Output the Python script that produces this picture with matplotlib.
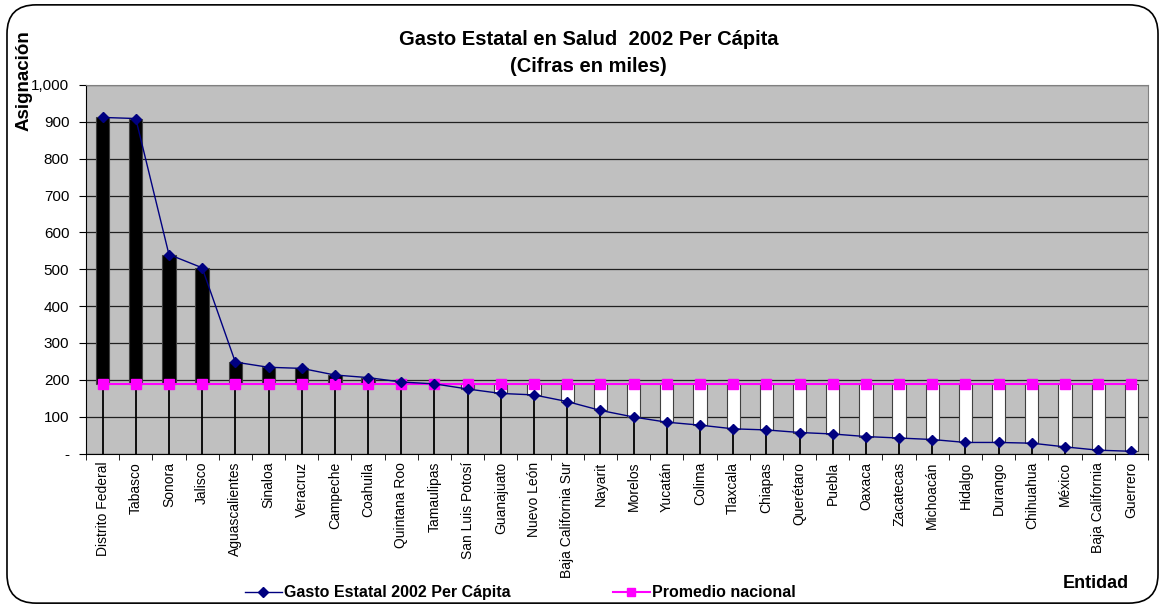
import numpy as np
import matplotlib
matplotlib.use("Agg")
import matplotlib.pyplot as plt
from matplotlib.patches import FancyBboxPatch
from matplotlib.lines import Line2D

plt.rcParams['font.family'] = ['Liberation Sans', 'DejaVu Sans']

estados = ["Distrito Federal", "Tabasco", "Sonora", "Jalisco", "Aguascalientes",
           "Sinaloa", "Veracruz", "Campeche", "Coahuila", "Quintana Roo",
           "Tamaulipas", "San Luis Potosí", "Guanajuato", "Nuevo León",
           "Baja California Sur", "Nayarit", "Morelos", "Yucatán", "Colima",
           "Tlaxcala", "Chiapas", "Querétaro", "Puebla", "Oaxaca", "Zacatecas",
           "Michoacán", "Hidalgo", "Durango", "Chihuahua", "México",
           "Baja California", "Guerrero"]
gasto = np.array([912, 909, 540, 504, 248, 234, 231, 213, 206, 194,
                  189, 175, 163, 159, 141, 117, 99, 85, 77, 67,
                  64, 57, 53, 46, 42, 38, 30, 30, 28, 18, 9, 6])
promedio = np.full(len(estados), 188)

x = np.arange(len(estados))

fig = plt.figure(figsize=(11.65, 6.08), dpi=100)
ax = fig.add_axes([0.0738, 0.2541, 0.9116, 0.6061])
ax.set_facecolor('#C0C0C0')

# drop lines
ax.vlines(x, 0, np.maximum(gasto, promedio), color='black', lw=1.3, zorder=2)

# up/down bars between the two series
arriba = gasto >= promedio
ax.bar(x[arriba], (gasto - promedio)[arriba], bottom=promedio[arriba], width=0.4,
       color='black', edgecolor='#404040', lw=0.8, zorder=3)
ax.bar(x[~arriba], (promedio - gasto)[~arriba], bottom=gasto[~arriba], width=0.4,
       color='white', edgecolor='#404040', lw=0.8, zorder=3)

ax.plot(x, promedio, color='#FF00FF', lw=1.5, marker='s', ms=6.5,
        mec='#FF00FF', mfc='#FF00FF', zorder=4)
ax.plot(x, gasto, color='#000080', lw=1, marker='D', ms=5.5,
        mec='#000080', mfc='#000080', zorder=5)

ax.set_xlim(-0.5, len(estados) - 0.5)
ax.set_ylim(0, 1000)
ax.set_yticks(np.arange(0, 1001, 100))
ax.set_yticklabels(['-'] + [f"{v:,}" for v in range(100, 1001, 100)], fontsize=11)
ax.yaxis.grid(True, color='#202020', lw=0.9)
ax.set_axisbelow(True)

ax.set_xticks(x)
ax.set_xticklabels(estados, rotation=90, fontsize=10)
ax.tick_params(axis='x', length=0, pad=6)
ax.set_xticks(np.arange(-0.5, len(estados)), minor=True)
ax.tick_params(axis='x', which='minor', length=4, direction='out', color='black')
ax.tick_params(axis='y', length=5, direction='out', color='black', pad=7)

ax.spines['left'].set_color('black')
ax.spines['bottom'].set_color('black')
ax.spines['right'].set_color('#808080')
ax.spines['top'].set_color('#808080')

fig.text(0.505, 0.935, "Gasto Estatal en Salud  2002 Per Cápita", ha='center', va='center',
         fontsize=14.5, fontweight='bold')
fig.text(0.505, 0.89, "(Cifras en miles)", ha='center', va='center',
         fontsize=14.5, fontweight='bold')
fig.text(0.021, 0.868, "Asignación", rotation=90, ha='center', va='center',
         fontsize=13.5, fontweight='bold')
fig.text(0.941, 0.041, "Entidad", ha='center', va='center', fontsize=13, fontweight='bold')

h1 = Line2D([], [], color='#000080', lw=1, marker='D', ms=5, mfc='#000080', mec='#000080')
h2 = Line2D([], [], color='#FF00FF', lw=1.5, marker='s', ms=6, mfc='#FF00FF', mec='#FF00FF')
leg1 = fig.legend([h1], ["Gasto Estatal 2002 Per Cápita"], loc='center left',
                  bbox_to_anchor=(245 / 1165, 0.025), frameon=False, borderpad=0,
                  borderaxespad=0, prop={'weight': 'bold', 'size': 11.5},
                  handlelength=2.3, handletextpad=0.15)
leg2 = fig.legend([h2], ["Promedio nacional"], loc='center left',
                  bbox_to_anchor=(613 / 1165, 0.025), frameon=False, borderpad=0,
                  borderaxespad=0, prop={'weight': 'bold', 'size': 11.5},
                  handlelength=2.3, handletextpad=0.15)

borde = FancyBboxPatch((0.006, 0.008), 0.988, 0.984, boxstyle="round,pad=0,rounding_size=0.025",
                       transform=fig.transFigure, fill=False, ec='black', lw=1.2,
                       mutation_aspect=1.9)
fig.patches.append(borde)

fig.savefig("out.png", dpi=100)
